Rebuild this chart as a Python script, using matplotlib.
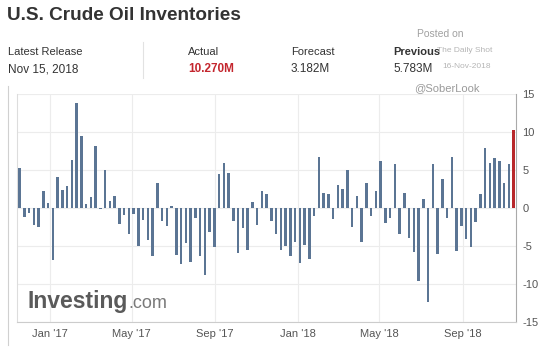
import matplotlib
matplotlib.use("Agg")
import matplotlib.pyplot as plt
import numpy as np
import pandas as pd

plt.rcParams['font.family'] = ['Liberation Sans', 'DejaVu Sans']

# weekly change in crude inventories, millions of barrels
changes = [5.2, -1.2, -0.75, -2.3, -2.5, 2.2, 0.65, -6.9, 4.1, 2.3,
           2.9, 6.3, 13.8, 9.4, 0.5, 1.4, 8.1, -0.2, 4.9, 0.9,
           1.6, -2.1, -0.9, -3.5, -0.8, -5.1, -1.6, -4.3, -6.3, 3.3,
           -1.7, -2.4, 0.2, -6.2, -7.4, -4.7, -7.1, -1.4, -6.3, -8.9,
           -3.2, -5.2, 4.4, 5.85, 4.6, -1.75, -6.0, -2.7, -5.6, 0.8,
           -2.3, 2.2, 1.8, -1.75, -3.4, -5.5, -5.0, -6.4, -4.5, -7.3,
           -4.9, -6.8, -1.05, 6.7, 1.9, 1.8, -1.5, 3.0, 2.4, 4.9,
           -2.6, 1.6, -4.5, 3.3, -1.05, 2.2, 6.1, -2.05, -1.3, 5.8,
           -3.5, 2.0, -4.0, -5.8, -9.7, 1.2, -12.4, 5.7, -6.1, 3.75,
           -1.3, 6.7, -5.7, -2.4, -4.1, -5.2, -1.9, 1.8, 7.9, 5.85,
           6.5, 6.2, 3.2, 5.783, 10.27]
dates = pd.date_range(end="2018-11-15", periods=len(changes), freq="7D")

tick_dates = pd.to_datetime(["2017-01-01", "2017-05-01", "2017-09-01",
                             "2018-01-01", "2018-05-01", "2018-09-01"])
tick_labels = ["Jan '17", "May '17", "Sep '17", "Jan '18", "May '18", "Sep '18"]
y_ticks = [-15, -10, -5, 0, 5, 10, 15]

header_labels = ["Latest Release", "Actual", "Forecast", "Previous"]
header_values = ["Nov 15, 2018", "10.270M", "3.182M", "5.783M"]

W, H = 538, 347
fig = plt.figure(figsize=(W / 100, H / 100), dpi=100)
fig.patch.set_facecolor("white")

def px(x, y):
    return x / W, 1 - y / H

ax = fig.add_axes([17 / W, 25.3 / H, (515.5 - 17) / W, (321.7 - 93.7) / H])

colors = ["#5b7594"] * (len(changes) - 1) + ["#b8282b"]
ax.bar(dates, changes, width=3.6, color=colors, zorder=3)

ax.set_ylim(-15, 15)
ax.set_xlim(dates[0] - pd.Timedelta(days=4), dates[-1] + pd.Timedelta(days=2.7))
ax.yaxis.tick_right()
ax.set_yticks(y_ticks)
ax.set_yticklabels([str(v) for v in y_ticks])
ax.set_xticks(tick_dates)
ax.set_xticklabels(tick_labels)
ax.tick_params(axis="both", length=0, labelsize=8, colors="#555555")
ax.tick_params(axis="y", pad=5)
ax.tick_params(axis="x", pad=5)
ax.grid(True, color="#ececec", linewidth=0.8, zorder=0)

ax.spines["top"].set_visible(False)
ax.spines["left"].set_color("#dddddd")
ax.spines["bottom"].set_color("#cccccc")
ax.spines["right"].set_color("#aaaaaa")

# logo in the lower left of the plot
inv = ax.text(0.0215, 0.059, "Investing", transform=ax.transAxes, fontsize=16.5,
              fontweight="bold", color="#5a5a5a", va="baseline", zorder=4)
fig.canvas.draw()
bb = inv.get_window_extent()
x_com = ax.transAxes.inverted().transform((bb.x1 + 0.5, 0))[0]
ax.text(x_com, 0.059, ".com", transform=ax.transAxes, fontsize=13,
        color="#7a7a7a", va="baseline", zorder=4)

# header
fig.text(*px(7, 15), "U.S. Crude Oil Inventories", fontsize=13.7, fontweight="bold",
         color="#333333", va="center", ha="left")

xs = [8, 188, 291, 393]
for x, lab, val in zip(xs, header_labels, header_values):
    fig.text(*px(x, 52), lab, fontsize=8, color="#333333", va="center",
             fontweight="bold" if lab == "Previous" else "normal")
    fig.text(*px(x, 69), val, fontsize=8.5, va="center",
             color="#c4262e" if lab == "Actual" else "#333333",
             fontweight="bold" if lab == "Actual" else "normal")

fig.add_artist(plt.Line2D([143 / W, 143 / W], [1 - 42 / H, 1 - 78 / H],
                          color="#e2e2e2", linewidth=0.8))
fig.add_artist(plt.Line2D([8 / W, 8 / W], [1 - 86 / H, 1 - 345 / H],
                          color="#d0d0d0", linewidth=0.8))

# posting stamp
fig.text(*px(440, 34), "Posted on", fontsize=7.5, color="#a0a0a0", ha="center", va="center")
fig.text(*px(465, 50), "The Daily Shot", fontsize=6, color="#b5b5b5", ha="center", va="center")
fig.text(*px(467, 67), "16-Nov-2018", fontsize=6, color="#b5b5b5", ha="center", va="center")
fig.text(*px(447, 88), "@SoberLook", fontsize=8, color="#9a9a9a", ha="center", va="center")

fig.savefig("out.png", dpi=100, facecolor="white")
